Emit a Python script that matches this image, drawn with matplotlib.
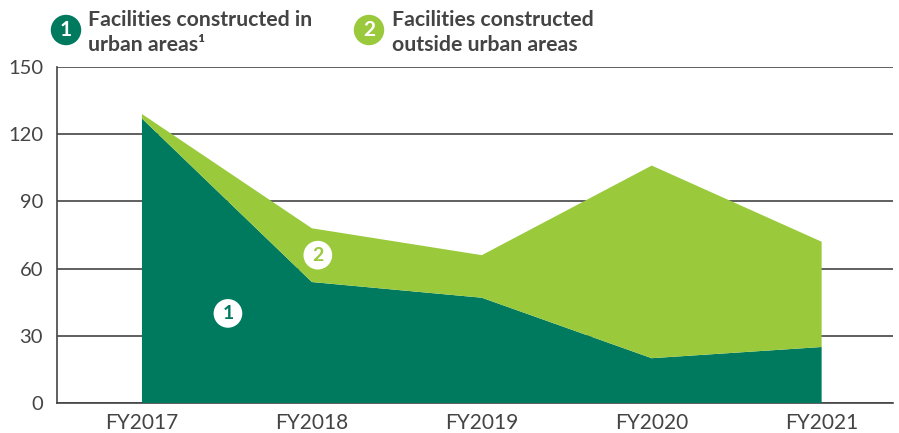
import matplotlib.pyplot as plt
import numpy as np

plt.rcParams['font.family'] = ['Lato', 'DejaVu Sans']

years = ['FY2017', 'FY2018', 'FY2019', 'FY2020', 'FY2021']
urban = [127, 54, 47, 20, 25]
outside = [2, 24, 19, 86, 47]
y_ticks = [0, 30, 60, 90, 120, 150]

dark = '#007a5e'
light = '#9aca3c'
grey = '#444444'

fig = plt.figure(figsize=(8.99, 4.33), dpi=100)
ax = fig.add_axes([57 / 899, 1 - 403 / 433, (893 - 57) / 899, (403 - 67) / 433])

x = np.arange(len(years))
ax.stackplot(x, urban, outside, colors=[dark, light], zorder=3, linewidth=0)

ax.set_xlim(-0.5, 4.42)
ax.set_ylim(0, 150)
ax.set_yticks(y_ticks)
ax.set_xticks(x)
ax.set_xticklabels(years)
ax.yaxis.grid(True, color=grey, linewidth=1.2, zorder=1)
ax.set_axisbelow(True)
for s in ['top', 'right']:
    ax.spines[s].set_visible(False)
for s in ['left', 'bottom']:
    ax.spines[s].set_color(grey)
    ax.spines[s].set_linewidth(1.2)
ax.tick_params(axis='x', length=0, labelsize=15, labelcolor=grey, pad=7)
ax.tick_params(axis='y', length=0, labelsize=14.5, labelcolor=grey, pad=10)

# number markers inside the areas
ax.text(1.035, 66, '2', color=light, fontsize=14, fontweight='bold', ha='center', va='center', zorder=5,
        bbox=dict(boxstyle='circle,pad=0.3', fc='white', ec='none'))
ax.text(0.506, 40, '1', color=dark, fontsize=14, fontweight='bold', ha='center', va='center', zorder=5,
        bbox=dict(boxstyle='circle,pad=0.3', fc='white', ec='none'))

# legend at top
fig.text(66 / 899, 1 - 30 / 433, '1', color='white', fontsize=15, fontweight='bold', ha='center', va='center',
         bbox=dict(boxstyle='circle,pad=0.25', fc=dark, ec='none'))
fig.text(88 / 899, 1 - 20 / 433, 'Facilities constructed in', color=grey, fontsize=15.3, fontweight='bold',
         va='center')
fig.text(88 / 899, 1 - 45 / 433, 'urban areas¹', color=grey, fontsize=15.3, fontweight='bold', va='center')
fig.text(369 / 899, 1 - 30 / 433, '2', color='white', fontsize=15, fontweight='bold', ha='center', va='center',
         bbox=dict(boxstyle='circle,pad=0.25', fc=light, ec='none'))
fig.text(392 / 899, 1 - 20 / 433, 'Facilities constructed', color=grey, fontsize=15.3, fontweight='bold',
         va='center')
fig.text(392 / 899, 1 - 45 / 433, 'outside urban areas', color=grey, fontsize=15.3, fontweight='bold',
         va='center')

fig.savefig('out.png', dpi=100)
